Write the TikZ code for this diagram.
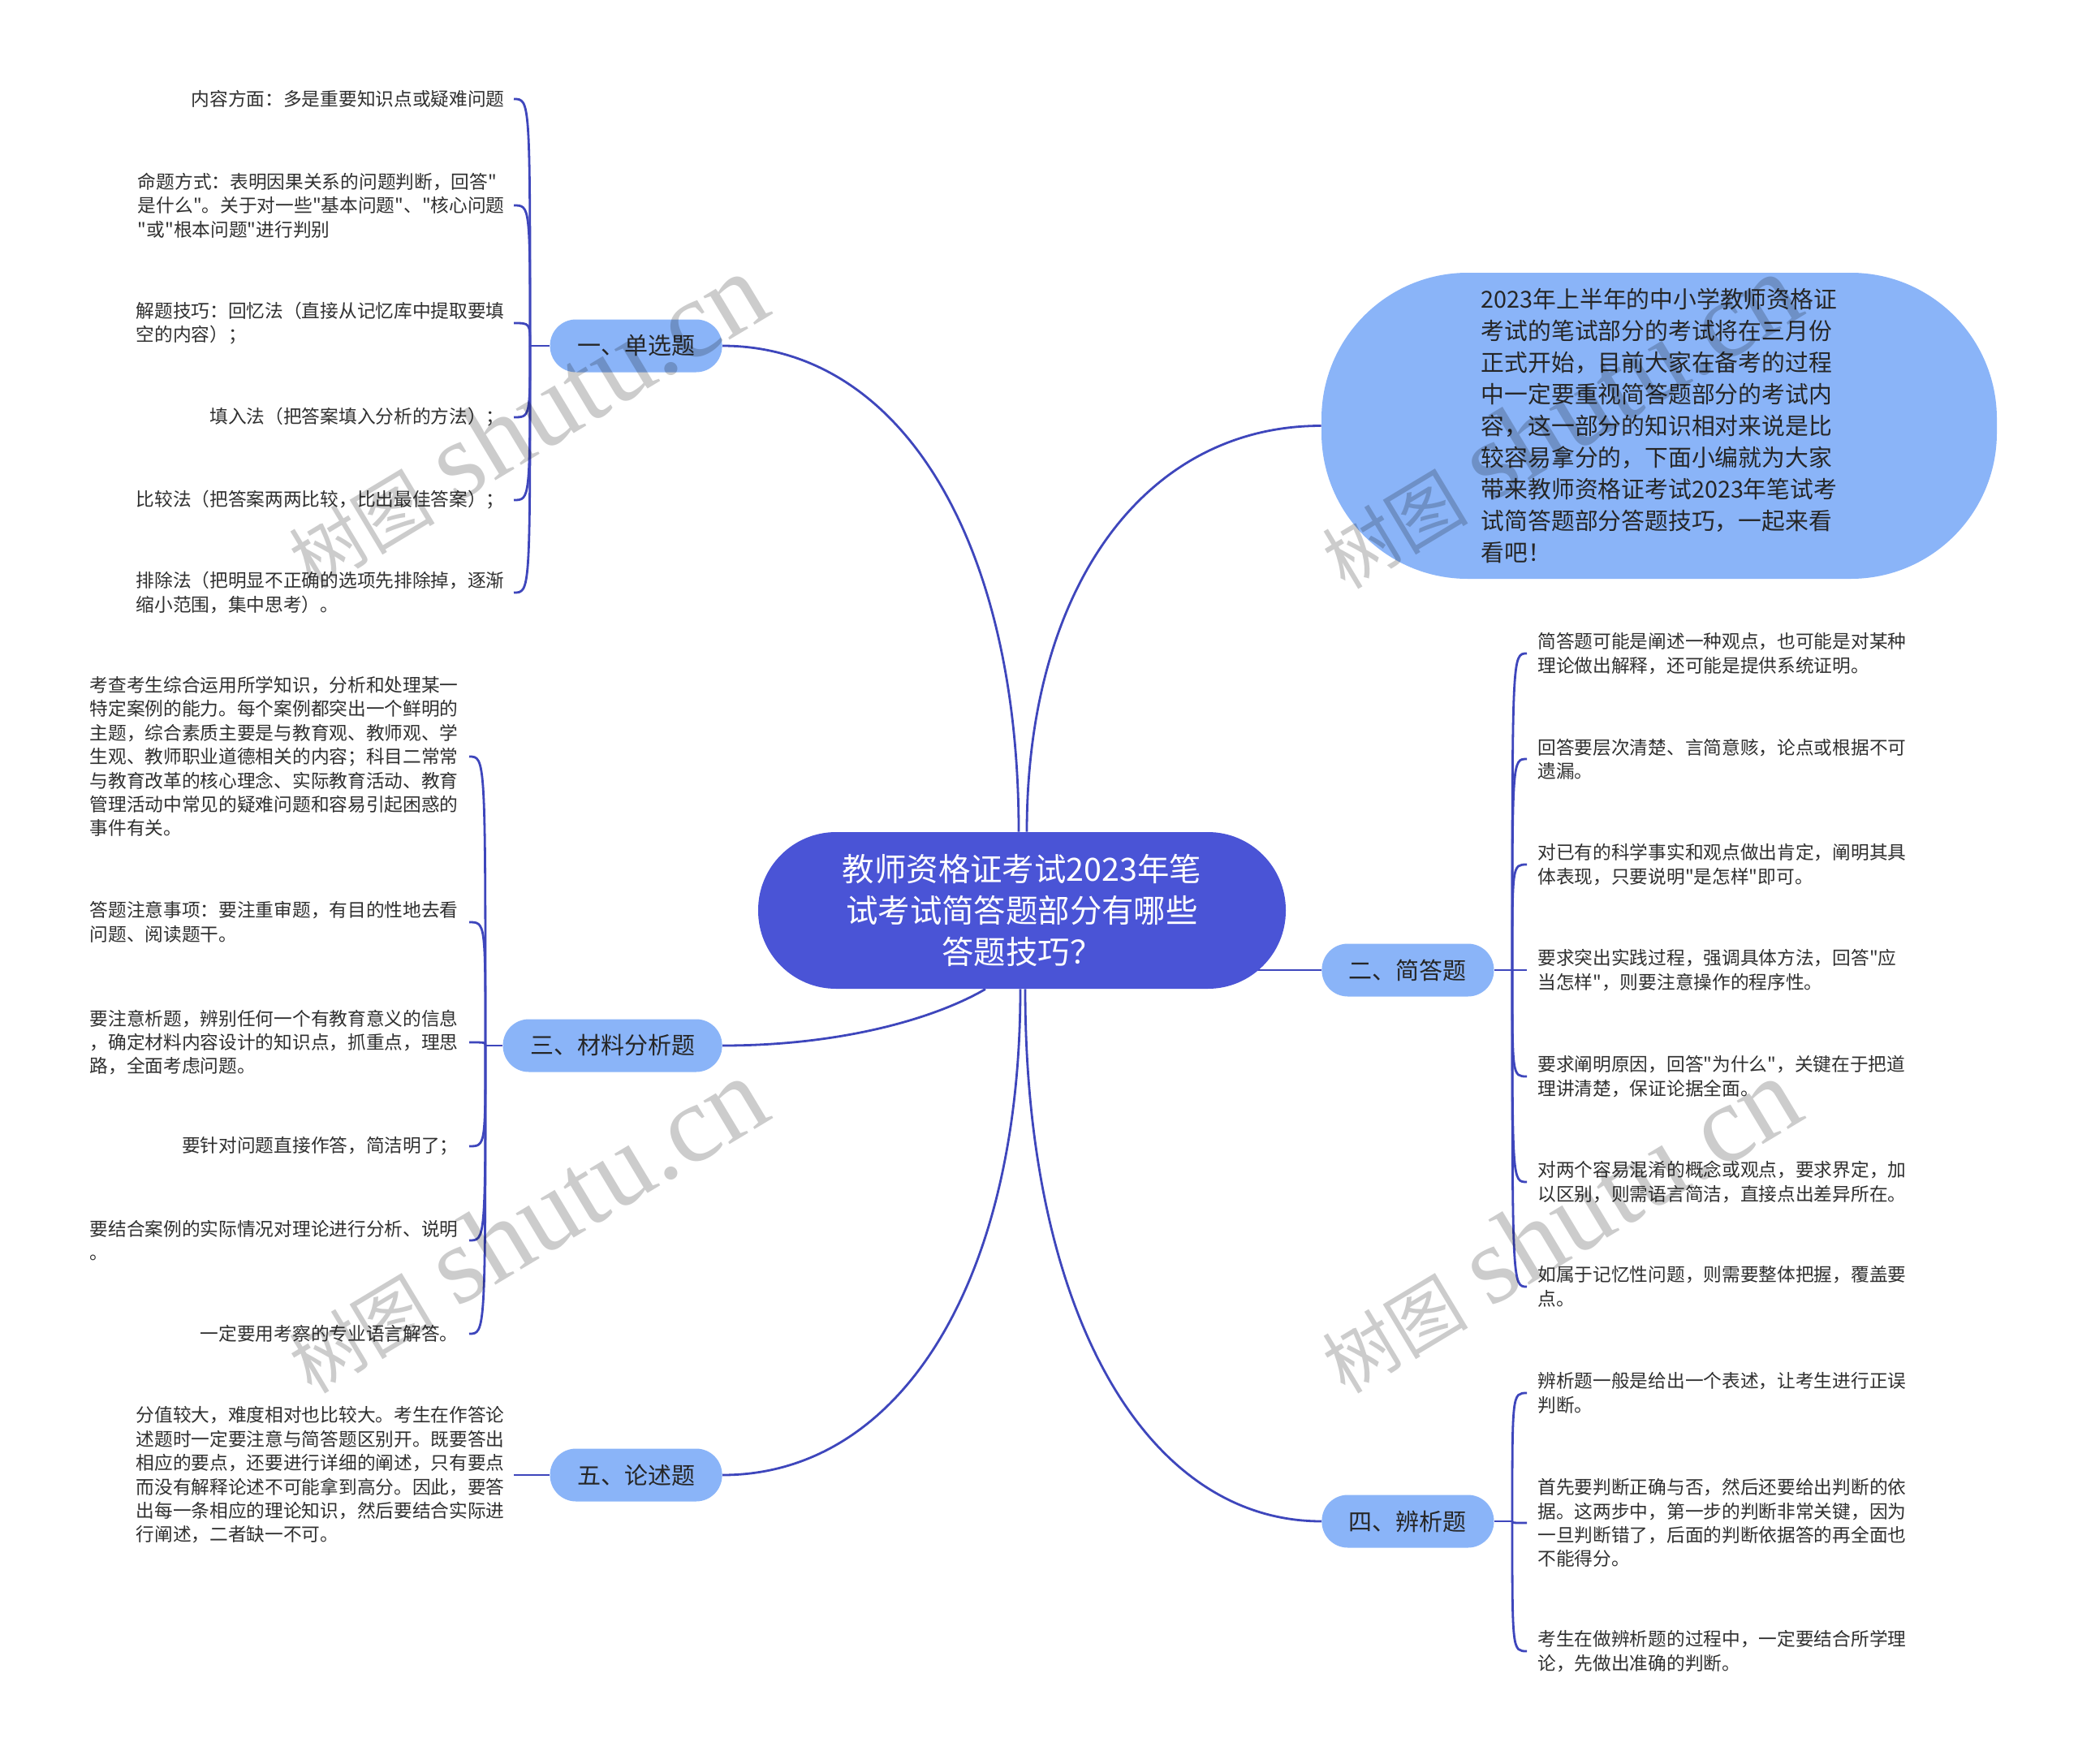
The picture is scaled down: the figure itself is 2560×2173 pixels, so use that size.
\documentclass[tikz,border=0pt]{standalone}
\usepackage{fontspec}
\setmainfont{Noto Sans CJK SC}
\newfontfamily\cjk{Noto Sans CJK SC}
\newfontfamily\wmlatin{Liberation Serif}
\usetikzlibrary{backgrounds,calc}
\definecolor{linec}{RGB}{62,70,188}
\definecolor{centerc}{RGB}{74,84,214}
\definecolor{branchc}{RGB}{138,180,248}
\definecolor{leaftext}{RGB}{48,48,48}
\definecolor{darktext}{RGB}{38,38,38}
\begin{document}
\begin{tikzpicture}[x=0.5pt,y=-0.5pt,
  conn/.style={draw=linec, line width=1.4pt},
  centerbox/.style={fill=centerc, rounded corners=48pt, minimum width=325pt, minimum height=96.5pt, text=white, align=center, inner sep=0pt, font=\cjk\fontsize{19.7pt}{25.7pt}\selectfont},
  introbox/.style={fill=branchc, rounded corners=90pt, minimum width=416pt, minimum height=188.5pt, text=darktext, align=left, inner sep=0pt, font=\cjk\fontsize{14.4pt}{19.5pt}\selectfont},
  branchbox/.style={fill=branchc, rounded corners=16pt, minimum height=32.5pt, inner xsep=16.75pt, inner ysep=0pt, text=darktext, font=\cjk\fontsize{14.5pt}{17pt}\selectfont},
  leafL/.style={anchor=east, align=left, inner sep=0pt, text=leaftext, font=\cjk\fontsize{11.35pt}{14.7pt}\selectfont},
  leafR/.style={anchor=west, align=left, inner sep=0pt, text=leaftext, font=\cjk\fontsize{11.35pt}{14.7pt}\selectfont},
  wm/.style={text=black, text opacity=0.2, rotate=31, inner sep=0pt}
]
\useasboundingbox (0,0) rectangle (2560,2173);

% central and first-level nodes
\node[centerbox] (ctr) at (1259,1121.5) {教师资格证考试2023年笔\\试考试简答题部分有哪些\\答题技巧？};
\node[introbox] (intro) at (2044,524.5) {2023年上半年的中小学教师资格证\\考试的笔试部分的考试将在三月份\\正式开始，目前大家在备考的过程\\中一定要重视简答题部分的考试内\\容，这一部分的知识相对来说是比\\较容易拿分的，下面小编就为大家\\带来教师资格证考试2023年笔试考\\试简答题部分答题技巧，一起来看\\看吧！};
\node[branchbox, anchor=east] (b1) at (890,426) {一、单选题};
\node[branchbox, anchor=east] (b3) at (890,1288) {三、材料分析题};
\node[branchbox, anchor=east] (b5) at (890,1817) {五、论述题};
\node[branchbox, anchor=west] (b2) at (1628,1195) {二、简答题};
\node[branchbox, anchor=west] (b4) at (1628,1874) {四、辨析题};

% leaves of 一
\node[leafL] (a1) at (622,122) {内容方面：多是重要知识点或疑难问题};
\node[leafL] (a2) at (622,253) {命题方式：表明因果关系的问题判断，回答"\\是什么"。关于对一些"基本问题"、"核心问题\\"或"根本问题"进行判别};
\node[leafL] (a3) at (622,398) {解题技巧：回忆法（直接从记忆库中提取要填\\空的内容）；};
\node[leafL] (a4) at (622,514) {填入法（把答案填入分析的方法）；};
\node[leafL] (a5) at (622,616) {比较法（把答案两两比较，比出最佳答案）；};
\node[leafL] (a6) at (622,730) {排除法（把明显不正确的选项先排除掉，逐渐\\缩小范围，集中思考）。};

% leaves of 三
\node[leafL] (m1) at (565,932) {考查考生综合运用所学知识，分析和处理某一\\特定案例的能力。每个案例都突出一个鲜明的\\主题，综合素质主要是与教育观、教师观、学\\生观、教师职业道德相关的内容；科目二常常\\与教育改革的核心理念、实际教育活动、教育\\管理活动中常见的疑难问题和容易引起困惑的\\事件有关。};
\node[leafL] (m2) at (565,1136) {答题注意事项：要注重审题，有目的性地去看\\问题、阅读题干。};
\node[leafL] (m3) at (565,1284) {要注意析题，辨别任何一个有教育意义的信息\\，确定材料内容设计的知识点，抓重点，理思\\路，全面考虑问题。};
\node[leafL] (m4) at (565,1412) {要针对问题直接作答，简洁明了；};
\node[leafL] (m5) at (565,1528) {要结合案例的实际情况对理论进行分析、说明\\。};
\node[leafL] (m6) at (565,1643) {一定要用考察的专业语言解答。};

% leaf of 五
\node[leafL] (p1) at (622,1817) {分值较大，难度相对也比较大。考生在作答论\\述题时一定要注意与简答题区别开。既要答出\\相应的要点，还要进行详细的阐述，只有要点\\而没有解释论述不可能拿到高分。因此，要答\\出每一条相应的理论知识，然后要结合实际进\\行阐述，二者缺一不可。};

% leaves of 二
\node[leafR] (j1) at (1894,805) {简答题可能是阐述一种观点，也可能是对某种\\理论做出解释，还可能是提供系统证明。};
\node[leafR] (j2) at (1894,935) {回答要层次清楚、言简意赅，论点或根据不可\\遗漏。};
\node[leafR] (j3) at (1894,1065) {对已有的科学事实和观点做出肯定，阐明其具\\体表现，只要说明"是怎样"即可。};
\node[leafR] (j4) at (1894,1195) {要求突出实践过程，强调具体方法，回答"应\\当怎样"，则要注意操作的程序性。};
\node[leafR] (j5) at (1894,1326) {要求阐明原因，回答"为什么"，关键在于把道\\理讲清楚，保证论据全面。};
\node[leafR] (j6) at (1894,1456) {对两个容易混淆的概念或观点，要求界定，加\\以区别，则需语言简洁，直接点出差异所在。};
\node[leafR] (j7) at (1894,1585) {如属于记忆性问题，则需要整体把握，覆盖要\\点。};

% leaves of 四
\node[leafR] (k1) at (1894,1716) {辨析题一般是给出一个表述，让考生进行正误\\判断。};
\node[leafR] (k2) at (1894,1876) {首先要判断正确与否，然后还要给出判断的依\\据。这两步中，第一步的判断非常关键，因为\\一旦判断错了，后面的判断依据答的再全面也\\不能得分。};
\node[leafR] (k3) at (1894,2034) {考生在做辨析题的过程中，一定要结合所学理\\论，先做出准确的判断。};

% spine points
\coordinate (s1) at (653,426);
\coordinate (s3) at (598,1288);
\coordinate (s2) at (1863,1195);
\coordinate (s4) at (1863,1874);

\begin{pgfonlayer}{background}
\fill[white] (0,0) rectangle (2560,2173);
% main connectors
\draw[conn] (b1.east) .. controls +(219,0) and +(0,-359) .. ([xshift=-2pt]ctr.north);
\draw[conn] (intro.west) .. controls +(-218,0) and +(0,-300) .. ([xshift=3pt]ctr.north);
\draw[conn] (b3.east) .. controls +(150,0) and +(-60,35) .. ([xshift=-22.5pt]ctr.south);
\draw[conn] (b5.east) .. controls +(220,0) and +(0,359) .. ([xshift=-1pt]ctr.south);
\draw[conn] (b4.west) .. controls +(-219,0) and +(0,394) .. ([xshift=2pt]ctr.south);
\draw[conn] (ctr.center |- b2.west) -- (b2.west);
% stubs
\draw[conn] (b1.west) -- (s1);
\draw[conn] (b3.west) -- (s3);
\draw[conn] (b2.east) -- (s2);
\draw[conn] (b4.east) -- (s4);
\draw[conn] (b5.west) -- ([xshift=5.5pt]p1.east);
% leaf connectors
\foreach \n in {a1,a2,a3,a4,a5,a6}
  \draw[conn] (s1) .. controls (s1 |- \n.east) and (s1 |- \n.east) .. ([xshift=5.5pt]\n.east);
\foreach \n in {m1,m2,m3,m4,m5,m6}
  \draw[conn] (s3) .. controls (s3 |- \n.east) and (s3 |- \n.east) .. ([xshift=6.5pt]\n.east);
\foreach \n in {j1,j2,j3,j4,j5,j6,j7}
  \draw[conn] (s2) .. controls (s2 |- \n.west) and (s2 |- \n.west) .. ([xshift=-6.5pt]\n.west);
\foreach \n in {k1,k2,k3}
  \draw[conn] (s4) .. controls (s4 |- \n.west) and (s4 |- \n.west) .. ([xshift=-6.5pt]\n.west);
\end{pgfonlayer}

% watermarks
\node[wm] (w1) at (647,519) {\fontsize{45pt}{50pt}\selectfont 树图\hspace{14pt}{\wmlatin\fontsize{68pt}{70pt}\selectfont shutu.cn}};
\node[wm] (w2) at (1920,519) {\fontsize{45pt}{50pt}\selectfont 树图\hspace{14pt}{\wmlatin\fontsize{68pt}{70pt}\selectfont shutu.cn}};
\node[wm] (w3) at (647,1510) {\fontsize{45pt}{50pt}\selectfont 树图\hspace{14pt}{\wmlatin\fontsize{68pt}{70pt}\selectfont shutu.cn}};
\node[wm] (w4) at (1920,1510) {\fontsize{45pt}{50pt}\selectfont 树图\hspace{14pt}{\wmlatin\fontsize{68pt}{70pt}\selectfont shutu.cn}};
\end{tikzpicture}
\end{document}
